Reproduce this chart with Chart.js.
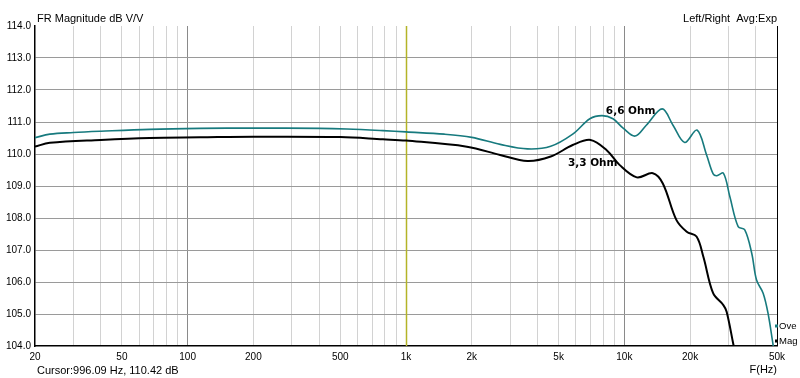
<!DOCTYPE html>
<html>
<head>
<meta charset="utf-8">
<script src="https://cdn.jsdelivr.net/npm/chart.js@4.4.1/dist/chart.umd.min.js"></script>
<style>
  html, body { margin: 0; padding: 0; background: #fff; }
  #wrap { width: 800px; height: 378px; position: relative; }
</style>
</head>
<body>
<div id="wrap"><canvas id="myChart"></canvas></div>
<script>
// 6,6 Ohm curve (teal)
const freq66 = [20, 23.4, 30, 40, 67, 114, 200, 400, 536, 784, 1000, 1500, 2000, 2700, 3600, 4600, 5800, 6950, 7900, 8870, 9900, 11200, 12600, 14900, 16700, 18900, 21500, 23800, 25500, 26500, 28400, 30400, 33200, 35600, 38300, 40300, 43200, 45500, 48000, 50000];
const db66 = [110.51, 110.62, 110.67, 110.71, 110.77, 110.80, 110.81, 110.80, 110.78, 110.73, 110.69, 110.62, 110.52, 110.30, 110.16, 110.24, 110.62, 111.1, 111.2, 111.1, 110.8, 110.56, 110.9, 111.41, 110.9, 110.36, 110.75, 109.97, 109.38, 109.32, 109.4, 108.67, 107.73, 107.63, 106.9, 106.06, 105.65, 105.02, 104.03, 103.3];

// 3,3 Ohm curve (black)
const freq33 = [20, 23.4, 40, 67, 114, 200, 500, 784, 1000, 1900, 2700, 3600, 4600, 5800, 7000, 8300, 9500, 11400, 13500, 15000, 17300, 19300, 21400, 23000, 25500, 28400, 29400, 31500, 33000];
const db33 = [110.23, 110.35, 110.44, 110.50, 110.52, 110.54, 110.53, 110.46, 110.42, 110.23, 109.97, 109.78, 109.92, 110.28, 110.44, 110.12, 109.66, 109.27, 109.4, 109.08, 107.94, 107.57, 107.42, 106.79, 105.65, 105.28, 105.07, 104.08, 103.4];

const xLabels = [20, 50, 100, 200, 500, 1000, 2000, 5000, 10000, 20000, 50000];
const cursorHz = 996.09;

const pts = (fs, ds) => fs.map((f, i) => ({ x: f, y: ds[i] }));

const AX = '"Liberation Sans", Arial, sans-serif';

const extras = {
  id: 'extras',
  beforeDatasetsDraw(chart) {
    const c = chart.ctx, a = chart.chartArea, x = chart.scales.x;
    const cx = Math.round(x.getPixelForValue(cursorHz)) + 0.5;
    c.save();
    c.strokeStyle = '#b4b428';
    c.lineWidth = 1.5;
    c.beginPath(); c.moveTo(cx, a.top); c.lineTo(cx, a.bottom); c.stroke();
    c.restore();
  },
  afterDatasetsDraw(chart) {
    const c = chart.ctx, a = chart.chartArea, x = chart.scales.x, y = chart.scales.y;
    c.save();
    // right frame line
    c.strokeStyle = '#000';
    c.lineWidth = 1;
    c.beginPath(); c.moveTo(a.right + 0.5, a.top); c.lineTo(a.right + 0.5, a.bottom); c.stroke();

    c.fillStyle = '#000';
    c.font = '11px ' + AX;
    c.textBaseline = 'middle';
    c.textAlign = 'left';
    c.fillText('FR Magnitude dB V/V', 37, 19);
    c.textAlign = 'right';
    c.fillText('Left/Right  Avg:Exp', 777, 19);
    c.fillText('F(Hz)', 777, 370);
    c.textAlign = 'left';
    c.fillText('Cursor:996.09 Hz, 110.42 dB', 37, 371);

    // curve labels
    c.font = 'bold 10.5px "DejaVu Sans", sans-serif';
    c.fillText('6,6 Ohm', x.getPixelForValue(8225), y.getPixelForValue(111.34));
    c.fillText('3,3 Ohm', x.getPixelForValue(5515), y.getPixelForValue(109.7));

    // legend at right edge
    c.font = '9.5px ' + AX;
    const items = [['Ove', '#177a7e', 326], ['Mag', '#000', 341]];
    items.forEach(([t, col, ly]) => {
      c.fillStyle = col;
      c.fillRect(775, ly - 1.5, 3, 3);
      c.fillStyle = '#000';
      c.fillText(t, 779, ly);
    });
    c.restore();
  }
};

new Chart(document.getElementById('myChart'), {
  type: 'line',
  data: {
    datasets: [
      {
        label: 'Ove',
        data: pts(freq66, db66),
        borderColor: '#177a7e',
        borderWidth: 1.6,
        pointRadius: 0,
        tension: 0.35
      },
      {
        label: 'Mag',
        data: pts(freq33, db33),
        borderColor: '#000',
        borderWidth: 2,
        pointRadius: 0,
        tension: 0.35
      }
    ]
  },
  options: {
    responsive: true,
    maintainAspectRatio: false,
    animation: false,
    layout: { padding: { top: 26, right: 23, left: 0, bottom: 0 } },
    plugins: { legend: { display: false }, tooltip: { enabled: false } },
    scales: {
      x: {
        type: 'logarithmic',
        min: 20,
        max: 50000,
        afterBuildTicks(scale) {
          const t = [];
          for (let d = 10; d <= 10000; d *= 10) {
            for (let m = 1; m <= 9; m++) {
              const v = d * m;
              if (v >= 20 && v <= 50000) t.push({ value: v });
            }
          }
          scale.ticks = t;
        },
        afterFit(scale) { scale.height = 32; },
        grid: {
          drawTicks: false,
          color(ctx) {
            const v = ctx.tick && ctx.tick.value;
            if (v === 20) return 'rgba(0,0,0,0)';
            if (v === 50000) return '#000';
            if (v === 100 || v === 1000 || v === 10000) return '#8a8a8a';
            return '#d2d2d2';
          },
          lineWidth: 1
        },
        border: { color: '#000', width: 1.5 },
        ticks: {
          autoSkip: false,
          maxRotation: 0,
          padding: 5,
          color: '#000',
          font: { family: AX, size: 10 },
          callback(v) {
            if (!xLabels.includes(v)) return '';
            return v >= 1000 ? (v / 1000) + 'k' : String(v);
          }
        }
      },
      y: {
        min: 104,
        max: 114,
        afterFit(scale) { scale.width = 35; },
        grid: {
          drawTicks: false,
          color(ctx) {
            const v = ctx.tick && ctx.tick.value;
            if (v === 114 || v === 104) return 'rgba(0,0,0,0)';
            return '#9a9a9a';
          }
        },
        border: { color: '#000', width: 1.5 },
        ticks: {
          stepSize: 1,
          padding: 4,
          color: '#000',
          font: { family: AX, size: 10 },
          callback(v) { return v.toFixed(1); }
        }
      }
    }
  },
  plugins: [extras]
});
</script>
</body>
</html>
